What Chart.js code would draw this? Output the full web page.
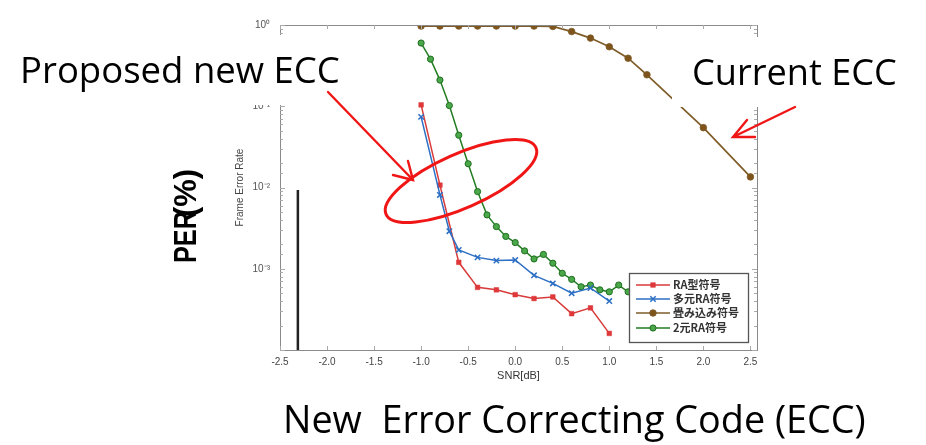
<!DOCTYPE html>
<html>
<head>
<meta charset="utf-8">
<script src="https://cdn.jsdelivr.net/npm/chart.js@4.4.1/dist/chart.umd.min.js"></script>
<style>
html, body { margin: 0; padding: 0; background: #fff; }
</style>
</head>
<body>
<canvas id="fer" width="926" height="445"></canvas>
<script>
// values (SNR in dB, frame error rate)
const snrRed = [-1.0, -0.8, -0.6, -0.4, -0.2, 0.0, 0.2, 0.4, 0.6, 0.8, 1.0];
const ferRed = [0.104, 0.0107, 0.0012, 0.00059, 0.00055, 0.00048, 0.00043, 0.00045, 0.00028, 0.00033, 0.00016];

const snrBlue = [-1.0, -0.8, -0.7, -0.6, -0.4, -0.2, 0.0, 0.2, 0.4, 0.6, 0.8, 1.0];
const ferBlue = [0.074, 0.0081, 0.0029, 0.0017, 0.00138, 0.00126, 0.00128, 0.00083, 0.00066, 0.0005, 0.00058, 0.0004];

const snrBrown = [-1.0, -0.8, -0.6, -0.4, -0.2, 0.0, 0.2, 0.4, 0.6, 0.8, 1.0, 1.2, 1.4, 2.0, 2.5];
const ferBrown = [0.97, 0.97, 0.97, 0.97, 0.97, 0.97, 0.97, 0.96, 0.83, 0.69, 0.54, 0.39, 0.244, 0.0545, 0.0135];

const snrGreen = [-1.0, -0.9, -0.8, -0.7, -0.6, -0.5, -0.4, -0.3, -0.2, -0.1, 0.0, 0.1,
                  0.2, 0.3, 0.4, 0.5, 0.6, 0.7, 0.8, 0.9, 1.0, 1.1, 1.2];
const ferGreen = [0.60, 0.38, 0.21, 0.102, 0.044, 0.0196, 0.0089, 0.0046, 0.0033, 0.0025, 0.0021, 0.00166,
                  0.00132, 0.0015, 0.00117, 0.00088, 0.00074, 0.0006, 0.00063, 0.00055, 0.00052, 0.00063, 0.00052];

const seriesNames = ['RA型符号', '多元RA符号', '畳み込み符号', '2元RA符号'];
const xTicks = [-2.5, -2.0, -1.5, -1.0, -0.5, 0.0, 0.5, 1.0, 1.5, 2.0, 2.5];
const markerSnr = [-2.31, -2.31];
const markerFer = [0.0093, 0.0001];

const pts = (xs, ys) => xs.map((x, i) => ({ x: x, y: ys[i] }));
const sup = { '-': '⁻', '0': '⁰', '1': '¹', '2': '²', '3': '³', '4': '⁴' };

const datasets = [
  { label: seriesNames[0], data: pts(snrRed, ferRed), order: 1,
    borderColor: '#d83a3a', backgroundColor: '#e0383a', pointStyle: 'rect',
    pointRadius: 3.3, pointBorderWidth: 0.5, borderWidth: 1.5 },
  { label: seriesNames[1], data: pts(snrBlue, ferBlue), order: 0,
    borderColor: '#2c6fc4', backgroundColor: '#2c6fc4', pointStyle: 'crossRot',
    pointRadius: 3.8, pointBorderWidth: 1.5, borderWidth: 1.5 },
  { label: seriesNames[2], data: pts(snrBrown, ferBrown), order: 3,
    borderColor: '#7f5c28', backgroundColor: '#7d541c', pointStyle: 'circle',
    pointRadius: 3.3, pointBorderWidth: 0.8, borderWidth: 1.7 },
  { label: seriesNames[3], data: pts(snrGreen, ferGreen), order: 2,
    borderColor: '#237d23', backgroundColor: '#4aa84a', pointBorderColor: '#1f6e1f',
    pointStyle: 'circle', pointRadius: 3.1, pointBorderWidth: 1, borderWidth: 1.5 },
  { label: 'marker', data: pts(markerSnr, markerFer), order: 4,
    borderColor: '#222', borderWidth: 2.5, pointRadius: 0 }
];

function fitText(ctx, text, x, y, width, weight, family) {
  ctx.font = weight + ' 100px ' + family;
  const size = 100 * width / ctx.measureText(text).width;
  ctx.font = weight + ' ' + size + 'px ' + family;
  ctx.fillText(text, x, y);
}

function arrow(ctx, x0, y0, x1, y1, a1, a2) {
  ctx.beginPath();
  ctx.moveTo(x0, y0); ctx.lineTo(x1, y1);
  ctx.moveTo(a1[0], a1[1]); ctx.lineTo(x1, y1); ctx.lineTo(a2[0], a2[1]);
  ctx.stroke();
}

const extras = {
  id: 'extras',
  afterDatasetsDraw(chart) {
    const ctx = chart.ctx;
    const a = chart.chartArea;
    const xs = chart.scales.x, ys = chart.scales.y;
    ctx.save();
    // box and inward ticks
    ctx.strokeStyle = '#8a8a8a';
    ctx.lineWidth = 1;
    ctx.strokeRect(a.left + 0.5, a.top + 0.5, a.right - a.left, a.bottom - a.top);
    ctx.strokeStyle = '#aaa';
    ctx.beginPath();
    xTicks.forEach(v => {
      const px = Math.round(xs.getPixelForValue(v)) + 0.5;
      ctx.moveTo(px, a.bottom); ctx.lineTo(px, a.bottom - 4);
      ctx.moveTo(px, a.top); ctx.lineTo(px, a.top + 4);
    });
    ys.ticks.forEach(t => {
      const py = Math.round(ys.getPixelForValue(t.value)) + 0.5;
      const lg = Math.log10(t.value);
      const len = Math.abs(lg - Math.round(lg)) < 1e-6 ? 5 : 3;
      ctx.moveTo(a.left, py); ctx.lineTo(a.left + len, py);
      ctx.moveTo(a.right, py); ctx.lineTo(a.right - len, py);
    });
    ctx.stroke();

    // legend box
    const lx = 629, ly = 273, lw = 119, lh = 69;
    ctx.fillStyle = '#fff';
    ctx.fillRect(lx, ly, lw, lh);
    ctx.strokeStyle = '#555';
    ctx.lineWidth = 1.3;
    ctx.strokeRect(lx + 0.5, ly + 0.5, lw, lh);
    const rows = [285, 299, 313, 328];
    for (let i = 0; i < 4; i++) {
      const ds = chart.data.datasets[i];
      const y = rows[i];
      ctx.strokeStyle = ds.borderColor;
      ctx.lineWidth = 1.6;
      ctx.beginPath(); ctx.moveTo(636, y); ctx.lineTo(670, y); ctx.stroke();
      ctx.fillStyle = ds.backgroundColor;
      ctx.strokeStyle = ds.pointBorderColor || ds.borderColor;
      ctx.lineWidth = ds.pointBorderWidth;
      Chart.helpers.drawPoint(ctx, { pointStyle: ds.pointStyle, radius: ds.pointRadius, rotation: 0, borderWidth: ds.pointBorderWidth }, 653, y);
      ctx.fillStyle = '#333';
      ctx.font = 'bold 11px "Noto Sans CJK JP"';
      ctx.textBaseline = 'middle';
      ctx.fillText(ds.label, 673, y);
    }
    ctx.textBaseline = 'alphabetic';

    // white callout boxes
    ctx.fillStyle = '#fff';
    ctx.fillRect(0, 35, 365, 70);
    ctx.fillRect(672, 37, 236, 70);

    ctx.fillStyle = '#000';
    fitText(ctx, 'Proposed new ECC', 20, 83, 320, 'normal', '"Open Sans"');
    fitText(ctx, 'Current ECC', 692, 85, 205, 'normal', '"Open Sans"');
    fitText(ctx, 'New  Error Correcting Code (ECC)', 283, 433, 583, 'normal', '"Open Sans"');

    // rotated PER(%) label, the two pieces overlap as in the slide
    ctx.save();
    ctx.translate(196, 263);
    ctx.rotate(-Math.PI / 2);
    ctx.font = 'bold 31px "Liberation Sans"';
    let w = ctx.measureText('PER').width;
    ctx.save(); ctx.scale(52 / w, 1); ctx.fillText('PER', 0, 0); ctx.restore();
    ctx.translate(46, 0);
    w = ctx.measureText('(%)').width;
    ctx.save(); ctx.scale(48 / w, 1); ctx.fillText('(%)', 0, 0); ctx.restore();
    ctx.restore();

    // red annotations
    ctx.strokeStyle = '#f01616';
    ctx.lineWidth = 2.4;
    ctx.lineCap = 'round';
    arrow(ctx, 328, 92, 413, 180, [393, 175], [408, 161]);
    arrow(ctx, 795, 107, 733, 137, [747, 120], [755, 137]);
    ctx.lineWidth = 3;
    ctx.beginPath();
    ctx.ellipse(461, 181, 82, 27, -24 * Math.PI / 180, 0, Math.PI * 2);
    ctx.stroke();
    ctx.restore();
  }
};

const ctx = document.getElementById('fer').getContext('2d');
new Chart(ctx, {
  type: 'line',
  data: { datasets: datasets },
  options: {
    responsive: false,
    animation: false,
    devicePixelRatio: 1,
    layout: { padding: { left: 230, top: 25, right: 169, bottom: 59 } },
    plugins: { legend: { display: false }, tooltip: { enabled: false } },
    scales: {
      x: {
        type: 'linear',
        min: -2.5,
        max: 2.57,
        afterFit: s => { s.height = 36; },
        afterBuildTicks: s => { s.ticks = xTicks.map(v => ({ value: v })); },
        ticks: {
          callback: v => v.toFixed(1),
          font: { size: 10, family: 'Liberation Sans' },
          color: '#444',
          padding: 6,
          maxRotation: 0,
          autoSkip: false
        },
        grid: { display: false, drawTicks: false },
        border: { color: '#8a8a8a' },
        title: { display: true, text: 'SNR[dB]', font: { size: 11, family: 'Liberation Sans' }, color: '#333', padding: { top: 0, bottom: 3 } }
      },
      y: {
        type: 'logarithmic',
        min: 0.0001,
        max: 1,
        afterFit: s => { s.width = 50; },
        ticks: {
          autoSkip: false,
          callback: v => {
            const lg = Math.log10(v);
            if (Math.abs(lg - Math.round(lg)) > 1e-6 || Math.round(lg) === -4) return '';
            return '10' + String(Math.round(lg)).split('').map(c => sup[c]).join('');
          },
          font: { size: 10, family: 'Liberation Sans' },
          color: '#555',
          padding: 10
        },
        grid: { display: false, drawTicks: false },
        border: { color: '#8a8a8a' },
        title: { display: true, text: 'Frame Error Rate', font: { size: 10, family: 'Liberation Sans' }, color: '#444', padding: { top: 4, bottom: 0 } }
      }
    }
  },
  plugins: [extras]
});
</script>
</body>
</html>
